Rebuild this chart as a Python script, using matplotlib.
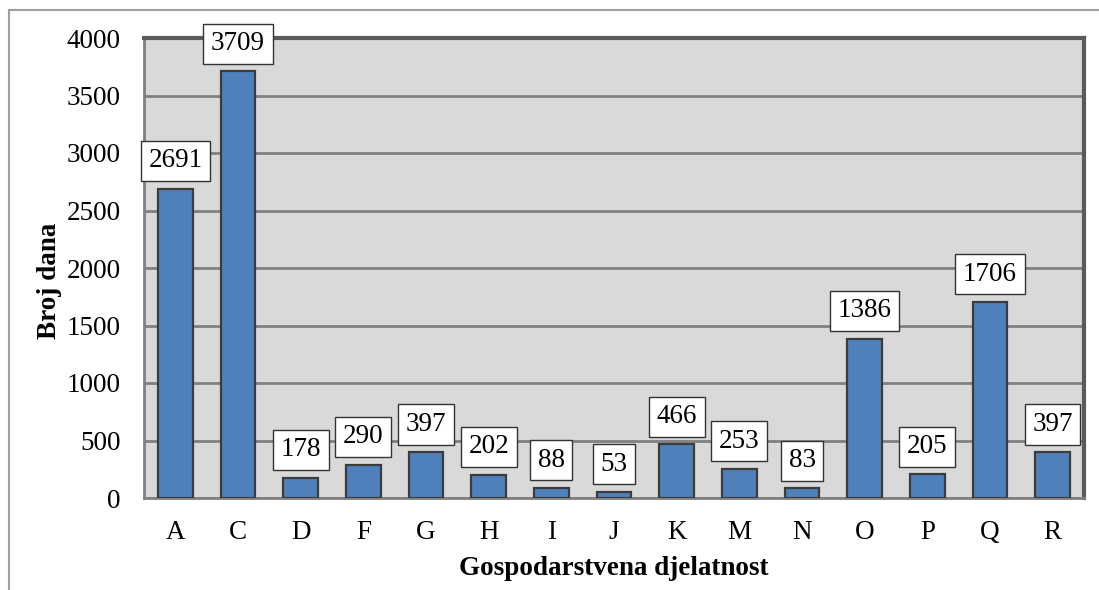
import matplotlib.pyplot as plt
from matplotlib.lines import Line2D

plt.rcParams['font.family'] = ['Liberation Serif', 'DejaVu Serif']

# data
categories = ['A', 'C', 'D', 'F', 'G', 'H', 'I', 'J', 'K', 'M', 'N', 'O', 'P', 'Q', 'R']
values = [2691, 3709, 178, 290, 397, 202, 88, 53, 466, 253, 83, 1386, 205, 1706, 397]
yticks = [0, 500, 1000, 1500, 2000, 2500, 3000, 3500, 4000]

fig = plt.figure(figsize=(10.99, 5.90), dpi=100)
ax = fig.add_axes([144/1099, 1 - 498/590, (1084-144)/1099, (498-38)/590])
ax.set_facecolor('#d9d9d9')

x = range(len(categories))
bars = ax.bar(x, values, width=0.55, color='#4f81bd', edgecolor='#3c3c3c', linewidth=1.6, zorder=3)

for xi, v in zip(x, values):
    ax.annotate(str(v), (xi, v), xytext=(0, 11), textcoords='offset points',
                ha='center', va='bottom', fontsize=19.5,
                bbox=dict(boxstyle='square,pad=0.28', fc='white', ec='#333333', lw=1.0),
                zorder=5)

ax.set_xlim(-0.5, len(categories) - 0.5)
ax.set_ylim(0, 4000)
ax.set_yticks(yticks)
ax.set_xticks(list(x))
ax.set_xticklabels(categories)
ax.tick_params(axis='both', length=0, labelsize=19.5)
ax.tick_params(axis='y', pad=17)
ax.tick_params(axis='x', pad=16)
ax.yaxis.grid(True, color='#808080', linewidth=2, zorder=0)
ax.set_axisbelow(True)

for s in ['left', 'bottom']:
    ax.spines[s].set_color('#808080')
    ax.spines[s].set_linewidth(2)
for s in ['top', 'right']:
    ax.spines[s].set_color('#5a5a5a')
    ax.spines[s].set_linewidth(3)

ax.set_ylabel('Broj dana', fontsize=19.5, fontweight='bold', labelpad=3)
ax.yaxis.label.set_y(0.472)
ax.set_xlabel('Gospodarstvena djelatnost', fontsize=19.5, fontweight='bold', labelpad=8)

# outer frame (top and left)
fig.add_artist(Line2D([9/1099, 1], [1 - 10/590, 1 - 10/590], color='#a0a0a0', lw=1.5))
fig.add_artist(Line2D([9/1099, 9/1099], [0, 1 - 10/590], color='#a0a0a0', lw=1.5))

plt.savefig('out.png', dpi=100)
